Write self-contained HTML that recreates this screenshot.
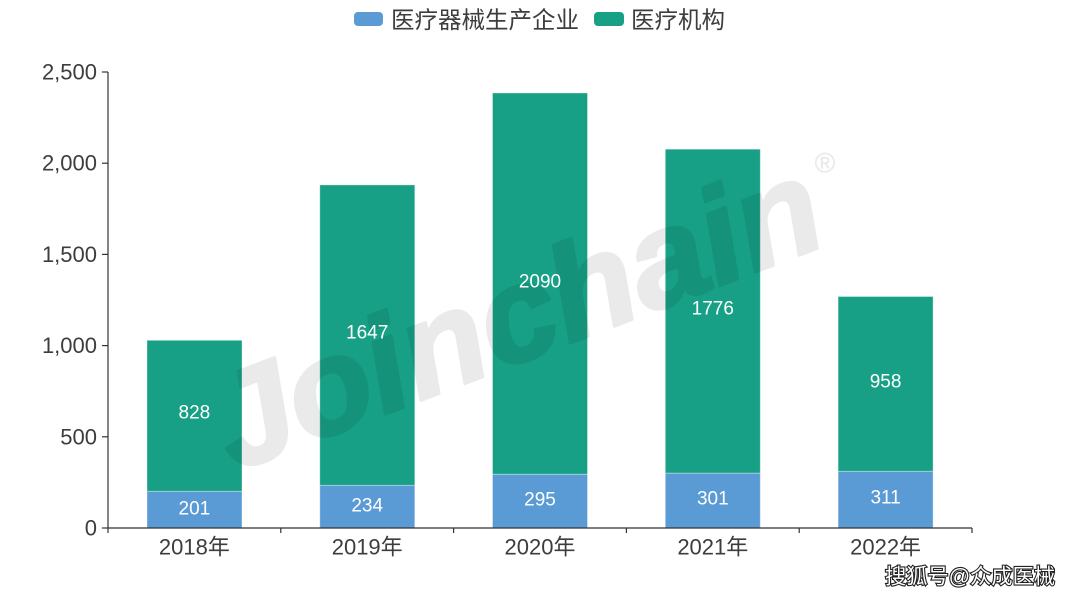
<!DOCTYPE html>
<html><head><meta charset="utf-8"><style>
html,body{margin:0;padding:0;background:#fff;}
svg{display:block;}
text{font-family:"Liberation Sans","Noto Sans CJK SC",sans-serif;}
</style></head><body>
<svg width="1080" height="600" viewBox="0 0 1080 600" xmlns="http://www.w3.org/2000/svg">
<rect width="1080" height="600" fill="#fff"/>
<!-- legend -->
<rect x="354" y="12" width="29" height="14" rx="4" fill="#5b9bd5"/>
<text x="391" y="20" font-size="23.5" fill="#3d3d3d" dominant-baseline="central">医疗器械生产企业</text>
<rect x="594" y="12" width="30" height="14" rx="4" fill="#17a085"/>
<text x="631" y="20" font-size="23.5" fill="#3d3d3d" dominant-baseline="central">医疗机构</text>

<!-- bars -->
<g stroke="rgba(255,255,255,0.35)" stroke-width="1">
<rect x="147" y="491.3" width="95" height="36.7" fill="#5b9bd5"/>
<rect x="147" y="340.3" width="95" height="151" fill="#17a085"/>
<rect x="319.8" y="485.3" width="95" height="42.7" fill="#5b9bd5"/>
<rect x="319.8" y="184.9" width="95" height="300.4" fill="#17a085"/>
<rect x="492.5" y="474.2" width="95" height="53.8" fill="#5b9bd5"/>
<rect x="492.5" y="93" width="95" height="381.2" fill="#17a085"/>
<rect x="665.3" y="473.1" width="95" height="54.9" fill="#5b9bd5"/>
<rect x="665.3" y="149.2" width="95" height="323.9" fill="#17a085"/>
<rect x="838.1" y="471.3" width="95" height="56.7" fill="#5b9bd5"/>
<rect x="838.1" y="296.5" width="95" height="174.8" fill="#17a085"/>
</g>

<!-- watermark -->
<g opacity="0.08" fill="#000" stroke="#000">
<text x="0" y="0" font-size="134" font-weight="bold" font-style="italic" stroke-width="3.5" stroke-linejoin="round" textLength="640" lengthAdjust="spacingAndGlyphs" transform="translate(234,472) rotate(-21)">Joinchain</text>
<text x="825" y="163" font-size="28" stroke-width="0.5" text-anchor="middle" dominant-baseline="central">®</text>
</g>

<!-- axes -->
<g stroke="#333" stroke-width="1.2" fill="none">
<line x1="108" y1="72" x2="108" y2="528"/>
<line x1="108" y1="528" x2="972" y2="528"/>
<line x1="102" y1="72" x2="108" y2="72"/>
<line x1="102" y1="163.2" x2="108" y2="163.2"/>
<line x1="102" y1="254.4" x2="108" y2="254.4"/>
<line x1="102" y1="345.6" x2="108" y2="345.6"/>
<line x1="102" y1="436.8" x2="108" y2="436.8"/>
<line x1="102" y1="528" x2="108" y2="528"/>
<line x1="108" y1="528" x2="108" y2="533"/>
<line x1="280.8" y1="528" x2="280.8" y2="533"/>
<line x1="453.6" y1="528" x2="453.6" y2="533"/>
<line x1="626.4" y1="528" x2="626.4" y2="533"/>
<line x1="799.2" y1="528" x2="799.2" y2="533"/>
<line x1="972" y1="528" x2="972" y2="533"/>
</g>
<g font-size="22" fill="#3d3d3d" text-anchor="end" dominant-baseline="central">
<text x="97" y="72">2,500</text>
<text x="97" y="163.2">2,000</text>
<text x="97" y="254.4">1,500</text>
<text x="97" y="345.6">1,000</text>
<text x="97" y="436.8">500</text>
<text x="97" y="528">0</text>
</g>
<g font-size="22" fill="#3d3d3d" text-anchor="middle" dominant-baseline="central">
<text x="194.4" y="547">2018年</text>
<text x="367.2" y="547">2019年</text>
<text x="540" y="547">2020年</text>
<text x="712.8" y="547">2021年</text>
<text x="885.6" y="547">2022年</text>
</g>

<!-- data labels -->
<g font-size="19" fill="#fff" text-anchor="middle" dominant-baseline="central">
<text x="194.4" y="509">201</text>
<text x="194.4" y="413">828</text>
<text x="367.2" y="506">234</text>
<text x="367.2" y="333">1647</text>
<text x="540" y="500">295</text>
<text x="540" y="282">2090</text>
<text x="712.8" y="499">301</text>
<text x="712.8" y="309">1776</text>
<text x="885.6" y="498">311</text>
<text x="885.6" y="382">958</text>
</g>

<!-- bottom-right watermark -->
<text x="885" y="577" font-size="21" fill="#fff" stroke="#222" stroke-width="2.2" paint-order="stroke" dominant-baseline="central" font-family="'Noto Sans CJK SC','Liberation Sans',sans-serif" textLength="170" lengthAdjust="spacingAndGlyphs">搜狐号@众成医械</text>
</svg>
</body></html>
